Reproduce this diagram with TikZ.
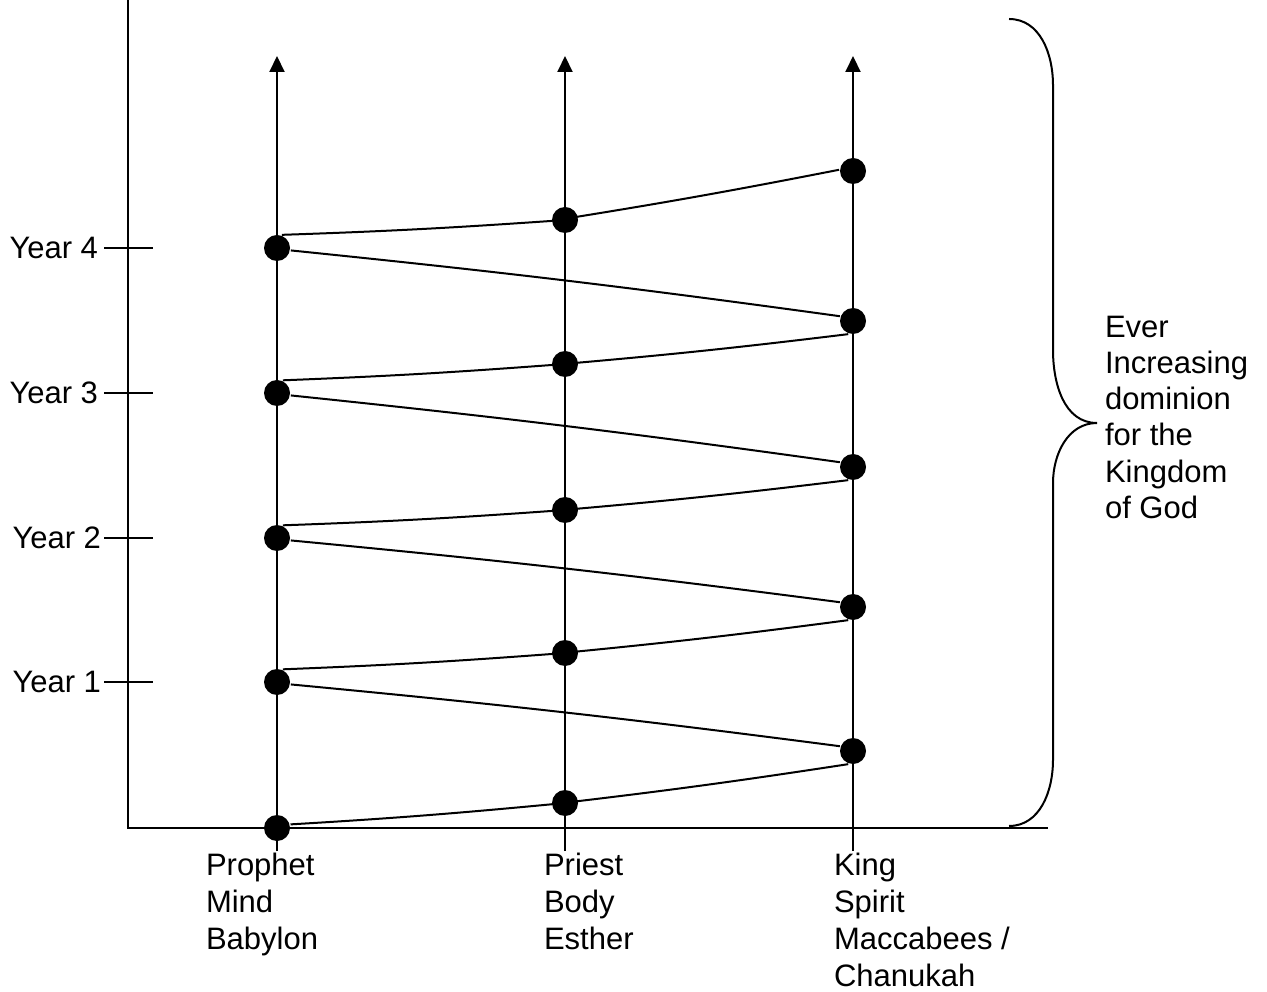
\documentclass[tikz,border=0pt]{standalone}
\usepackage{fontspec}
\setmainfont{Liberation Sans}
\usetikzlibrary{arrows.meta}

\begin{document}
\begin{tikzpicture}[x=0.5pt, y=0.5pt, line width=1pt,
	dot/.style={circle, fill, inner sep=0pt, minimum size=13pt},
	lbl/.style={font=\fontsize{15.5}{18.5}\selectfont, align=left, inner sep=0pt},
	up/.style={-{Triangle[width=7.5pt,length=8pt]}}]
	\useasboundingbox (0,0) rectangle (1267,991);

	%axes
	\coordinate (origin) at (128,163);
	\coordinate (ytop) at (128,991);
	\coordinate (xend) at (1048,163);
	\draw (ytop) -- (origin) -- (xend);

	%year ticks
	\foreach \n/\y/\x in {1/309/102, 2/453/102, 3/598/99, 4/743/99}{
		\coordinate (t\n) at (104,\y);
		\coordinate (u\n) at (153,\y);
		\draw (t\n) -- (u\n);
		\node[lbl, anchor=east] (year\n) at (\x,\y) {Year \n};
	}

	%columns
	\foreach \c/\x in {prophet/277, priest/565, king/853}{
		\coordinate (\c-bot) at (\x,140);
		\coordinate (\c-top) at (\x,935);
		\draw[up] (\c-bot) -- (\c-top);
	}
	\node[lbl, anchor=north west] (prophet) at (205,139) {Prophet\\Mind\\Babylon};
	\node[lbl, anchor=north west] (priest) at (543,139) {Priest\\Body\\Esther};
	\node[lbl, anchor=north west] (king) at (833,139) {King\\Spirit\\Maccabees /\\Chanukah};

	%dots
	\foreach \i/\py/\qy/\ky in {0/163/188/240, 1/309/338/384, 2/453/481/524, 3/598/627/670, 4/743/771/820}{
		\node[dot] (p\i) at (277,\py) {};
		\node[dot] (q\i) at (565,\qy) {};
		\node[dot] (k\i) at (853,\ky) {};
	}

	%spiral
	\foreach \i/\a/\b in {0/15/250, 1/65/250, 2/65/250, 3/65/250, 4/70/175}{
		\draw (p\i.\a) to[bend right=1] (q\i) to[bend right=1] (k\i.\b);
	}
	\foreach \i/\j in {0/1, 1/2, 2/3, 3/4}{
		\draw (k\i.160) to[bend right=1] (p\j.-10);
	}

	%brace
	\coordinate (tip) at (1097,568);
	\draw (1009,972) to[out=0,in=90] (1053,906) -- (1053,641) to[out=-90,in=180] (tip)
		to[out=180,in=90] (1053,508) -- (1053,231) to[out=-90,in=0] (1009,165);
	\node[lbl, anchor=north west, font=\fontsize{15.5}{18.1}\selectfont] (dominion) at (1104,676)
		{Ever\\Increasing\\dominion\\for the\\Kingdom\\of God};

\end{tikzpicture}
\end{document}
